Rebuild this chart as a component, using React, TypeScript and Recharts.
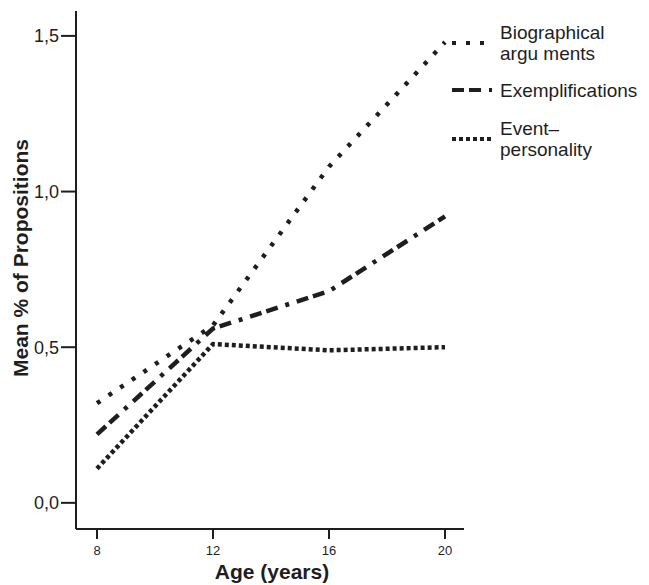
import { LineChart, Line, XAxis, YAxis, Legend } from "recharts"

const ages = [8, 12, 16, 20]
const biographical = [0.32, 0.57, 1.08, 1.48]
const exemplifications = [0.22, 0.56, 0.68, 0.92]
const eventPersonality = [0.11, 0.51, 0.49, 0.5]
const xTicks = [8, 12, 16, 20]
const yTicks = [0, 0.5, 1, 1.5]

const series = [
  { key: "bio", lines: ["Biographical", "argu ments"], dash: "4 10" },
  { key: "exe", lines: ["Exemplifications"], dash: "12 5 12 8 4 8" },
  { key: "evt", lines: ["Event–", "personality"], dash: "4 3" },
]

const data = ages.map((age, i) => ({
  age,
  bio: biographical[i],
  exe: exemplifications[i],
  evt: eventPersonality[i],
}))

const INK = "#1e1e1e"
const FONT = "'Liberation Sans', Arial, sans-serif"

function SideLegend() {
  const tops = [19, 66, 115]
  return (
    <div style={{ position: "absolute", left: 452, top: 0, fontFamily: FONT, color: INK }}>
      {series.map((s, i) => (
        <div
          key={s.key}
          style={{ position: "absolute", top: tops[i], height: 48, display: "flex", alignItems: "center", whiteSpace: "nowrap" }}
        >
          <svg width={40} height={8} style={{ display: "block" }}>
            <line x1={0} y1={4} x2={40} y2={4} stroke={INK} strokeWidth={4} strokeDasharray={s.dash} />
          </svg>
          <div style={{ marginLeft: 8, fontSize: 19, lineHeight: "21px" }}>
            {s.lines.map((l) => (
              <div key={l}>{l}</div>
            ))}
          </div>
        </div>
      ))}
    </div>
  )
}

export default function App() {
  return (
    <div style={{ position: "absolute", left: 0, top: 0, width: 649, height: 585, background: "#fff" }}>
      <style>{`body{margin:0}`}</style>
      <LineChart width={649} height={585} data={data} margin={{ top: 11, right: 185, bottom: 6, left: 16 }}>
        <XAxis
          dataKey="age"
          type="number"
          domain={[7.276, 20.655]}
          ticks={xTicks}
          allowDataOverflow
          height={50}
          tickSize={10}
          tickMargin={7}
          axisLine={{ stroke: INK, strokeWidth: 2 }}
          tickLine={{ stroke: INK, strokeWidth: 2 }}
          tick={{ fill: INK, fontSize: 13, fontFamily: FONT }}
          label={() => (
            <text x={272} y={579} textAnchor="middle" fontSize={21} fontWeight="bold" fontFamily={FONT} fill={INK}>
              Age (years)
            </text>
          )}
        />
        <XAxis xAxisId="top" orientation="top" dataKey="age" type="number" domain={[7.276, 20.655]} height={0} tick={false} tickLine={false} axisLine={{ stroke: INK, strokeWidth: 2 }} />
        <YAxis
          type="number"
          domain={[-0.084, 1.58]}
          ticks={yTicks}
          allowDataOverflow
          width={60}
          tickSize={15}
          tickMargin={2}
          tickFormatter={(v: number) => v.toFixed(1).replace(".", ",")}
          axisLine={{ stroke: INK, strokeWidth: 2 }}
          tickLine={{ stroke: INK, strokeWidth: 2 }}
          tick={{ fill: INK, fontSize: 18, fontFamily: FONT }}
          label={() => (
            <text
              x={28}
              y={258}
              transform="rotate(-90 28 258)"
              textAnchor="middle"
              fontSize={21}
              fontWeight="bold"
              fontFamily={FONT}
              fill={INK}
            >
              Mean % of Propositions
            </text>
          )}
        />
        <YAxis yAxisId="right" orientation="right" type="number" domain={[-0.084, 1.58]} width={0} tick={false} tickLine={false} axisLine={{ stroke: INK, strokeWidth: 2 }} />
        <Legend content={() => <SideLegend />} wrapperStyle={{ position: "absolute", left: 0, top: 0, width: 0, height: 0 }} />
        {series.map((s) => (
          <Line
            key={s.key}
            dataKey={s.key}
            type="linear"
            stroke={INK}
            strokeWidth={4.5}
            strokeDasharray={s.dash}
            dot={false}
            activeDot={false}
            legendType="none"
            isAnimationActive={false}
          />
        ))}
      </LineChart>
    </div>
  )
}
